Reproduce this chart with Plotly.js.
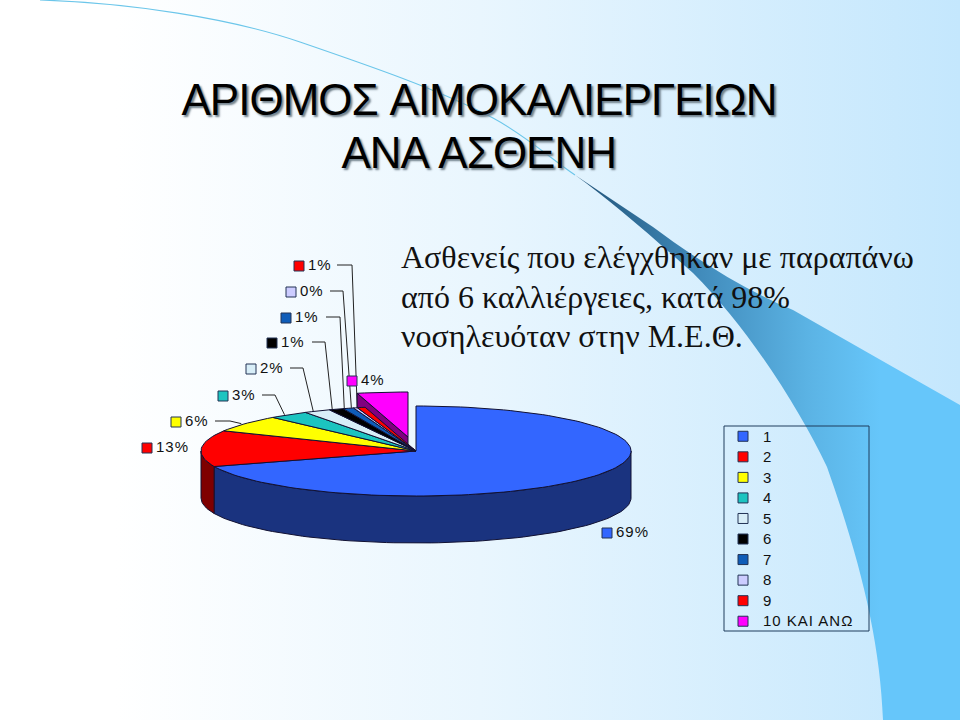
<!DOCTYPE html>
<html>
<head>
<meta charset="utf-8">
<script src="https://cdn.plot.ly/plotly-3.0.1.min.js"></script>
<style>
html,body{margin:0;padding:0;background:#fff;}
#wrap{position:relative;width:960px;height:720px;overflow:hidden;}
#bg{position:absolute;left:0;top:0;}
#chart{position:absolute;left:0;top:0;width:960px;height:720px;}
#chart .gtitle{letter-spacing:-1px;word-spacing:3px;}
#chart .annotation.heading text{letter-spacing:-1px;word-spacing:3px;}
#chart .legend .scrollbox{clip-path:none !important;}
#chart .legendtext{font-size:15px !important;letter-spacing:1px;}
#chart .textpoint text{font-size:15px !important;letter-spacing:1px;}
</style>
</head>
<body>
<div id="wrap">
<svg id="bg" width="960" height="720" viewBox="0 0 960 720">
  <defs>
    <linearGradient id="page" x1="0" x2="1" y1="0" y2="0">
      <stop offset="0.12" stop-color="#ffffff"/>
      <stop offset="0.5" stop-color="#e9f6fe"/>
      <stop offset="1" stop-color="#c4e7fd"/>
    </linearGradient>
    <linearGradient id="band" gradientUnits="userSpaceOnUse" x1="590" x2="880" y1="0" y2="0">
      <stop offset="0" stop-color="#24587e"/>
      <stop offset="0.35" stop-color="#3f88b8"/>
      <stop offset="0.75" stop-color="#5bb3e4"/>
      <stop offset="1" stop-color="#66c6fa"/>
    </linearGradient>
  </defs>
  <rect width="960" height="720" fill="url(#page)"/>
  <path d="M40 0 C130 3 230 18 300 42 C370 66 440 90 493 118 C525 135 550 158 575 175" fill="none" stroke="#6cc6ea" stroke-width="1.1"/>
  <path d="M575 175 L653 227 C700 262 745 290 793 310 L893 367 L960 405 L960 720 L883 720 C880 640 860 560 827 467 C800 410 750 330 693 273 C650 235 610 200 575 175 Z" fill="url(#band)"/>
</svg>
<div id="chart"></div>
</div>
<script>
// ---- values ----
const categories = ['1','2','3','4','5','6','7','8','9','10 ΚΑΙ ΑΝΩ'];
const values = [69.4, 13, 6, 3, 2, 1.1, 0.8, 0.3, 0.6, 3.8];
const titleLines = ['ΑΡΙΘΜΟΣ ΑΙΜΟΚΑΛΙΕΡΓΕΙΩΝ', 'ΑΝΑ ΑΣΘΕΝΗ'];
const noteLines = ['Ασθενείς που ελέγχθηκαν με παραπάνω', 'από 6 καλλιέργειες, κατά 98%', 'νοσηλευόταν στην Μ.Ε.Θ.'];

// ---- styles ----
const topColors = ['#3366ff','#ff0000','#ffff00','#1cc4c0','#d8eef8','#000000','#0f5cb8','#ccccff','#ff0000','#ff00ff'];
const wallColors = ['#1a337f','#7f0000','#7f7f00','#0e6260','#6c777c','#000000','#082e5c','#666680','#7f0000','#800080'];
const outline = '#111133';
const headingFont = {family:'Liberation Sans', size:44, color:'#000', shadow:'2px 2px 2px #6f7f8a'};

// ---- layout geometry (page pixels) ----
const cx = 416, cy = 451, rx = 215, ry = 45, depth = 47;
const explodedSlice = 9, explodeX = -8, explodeY = -14;
const labelX = [607,147,176,223,251,272,286,291,299,352];
const labelY = [533,448,422,396,369,343,318,292,266,381];
const leaderStart = [null,null,215,262,290,312,326,330,337,null];
const leaderElbow = [null,null,230,275,303,325,340,343,352,null];
const leaderShift = -4;
const noteY = [257,296.5,336];
const headingX = 479, headingY = [100,152];

// ---- pie geometry derived from the values ----
const total = values.reduce((a,b)=>a+b,0);
let acc = 0;
const angles = values.map(v => { const a0 = acc/total*360; acc += v; return [a0, acc/total*360]; });
const rad = d => d*Math.PI/180;
const rimX = d => cx + rx*Math.sin(rad(d));
const rimY = d => cy - ry*Math.cos(rad(d));
function arc(a0,a1){ const n = Math.max(2, Math.ceil((a1-a0)/2)), p=[]; for(let i=0;i<=n;i++) p.push(a0+(a1-a0)*i/n); return p; }

const base = {type:'scatter', hoverinfo:'skip', showlegend:false};
const traces = [];

// leaders lie beneath the slices
values.forEach((v,i) => {
  if (leaderStart[i] === null) return;
  const mid = (angles[i][0]+angles[i][1])/2;
  traces.push({...base, mode:'lines', line:{color:'#222',width:1},
    x:[leaderStart[i], leaderElbow[i], rimX(mid)+leaderShift],
    y:[labelY[i]-1, labelY[i]-1, rimY(mid)]});
});

// exploded slice: cut face then top
{
  const i = explodedSlice, [a0,a1] = angles[i];
  const xs = [rimX(a0)+explodeX, cx+explodeX, cx+explodeX, rimX(a0)+explodeX];
  const ys = [rimY(a0)+explodeY, cy+explodeY, cy+explodeY+depth, rimY(a0)+explodeY+depth];
  traces.push({...base, mode:'lines', fill:'toself', fillcolor:wallColors[i], line:{color:outline,width:1},
    x:[...xs,xs[0]], y:[...ys,ys[0]]});
  const p = arc(a0,a1);
  traces.push({...base, mode:'lines', fill:'toself', fillcolor:topColors[i], line:{color:outline,width:1},
    x:[cx+explodeX, ...p.map(d=>rimX(d)+explodeX), cx+explodeX],
    y:[cy+explodeY, ...p.map(d=>rimY(d)+explodeY), cy+explodeY]});
}

// front walls (visible rim is 90..270 degrees)
values.forEach((v,i) => {
  if (i === explodedSlice) return;
  const a0 = Math.max(angles[i][0],90), a1 = Math.min(angles[i][1],270);
  if (a1 <= a0) return;
  const p = arc(a0,a1), q = [...p].reverse();
  traces.push({...base, mode:'lines', fill:'toself', fillcolor:wallColors[i], line:{color:outline,width:1},
    x:[...p.map(rimX), ...q.map(rimX), rimX(p[0])],
    y:[...p.map(rimY), ...q.map(d=>rimY(d)+depth), rimY(p[0])]});
});

// top faces
values.forEach((v,i) => {
  if (i === explodedSlice) return;
  const p = arc(angles[i][0],angles[i][1]);
  traces.push({...base, mode:'lines', fill:'toself', fillcolor:topColors[i], line:{color:outline,width:1},
    x:[cx, ...p.map(rimX), cx], y:[cy, ...p.map(rimY), cy]});
});

// label squares double as legend entries
categories.forEach((c,i) => {
  traces.push({type:'scatter', mode:'markers', name:c, hoverinfo:'skip', showlegend:true,
    x:[labelX[i]], y:[labelY[i]],
    marker:{symbol:'square', size:10, color:topColors[i], line:{color:'#223355',width:1}}});
});

// percent labels
traces.push({...base, mode:'text', textposition:'middle right',
  x:labelX.map(x=>x+9), y:labelY,
  text:values.map(v=>Math.round(v)+'%'),
  textfont:{family:'Liberation Sans', size:15, color:'#111'}});

const layout = {
  width:960, height:720, margin:{l:0,r:0,t:0,b:0},
  paper_bgcolor:'rgba(0,0,0,0)', plot_bgcolor:'rgba(0,0,0,0)',
  xaxis:{range:[0,960], visible:false, fixedrange:true},
  yaxis:{range:[720,0], visible:false, fixedrange:true},
  title:{text:titleLines[0], x:headingX/960, xanchor:'center', y:1-headingY[0]/720, yanchor:'middle', yref:'container', font:headingFont},
  annotations:[
    {text:titleLines[1], xref:'x', yref:'y', x:headingX, y:headingY[1], xanchor:'center', yanchor:'middle', showarrow:false, font:headingFont},
    ...noteLines.map((t,k)=>({text:t, xref:'x', yref:'y', x:399, y:noteY[k], xanchor:'left', yanchor:'middle',
      align:'left', showarrow:false, font:{family:'Liberation Serif', size:32, color:'#111'}}))
  ],
  shapes:[{type:'rect', xref:'x', yref:'y', x0:724, x1:869, y0:426, y1:631, line:{color:'#1e3c5c',width:1}, fillcolor:'rgba(0,0,0,0)'}],
  legend:{x:723/960, y:1-421/720, xanchor:'left', yanchor:'top', bgcolor:'rgba(0,0,0,0)',
    borderwidth:0,
    font:{family:'Liberation Sans', size:13.5, color:'#111'}, traceorder:'normal'}
};
Plotly.newPlot('chart', traces, layout, {displayModeBar:false, staticPlot:true}).then(gd => {
  const a = gd.querySelector('.annotation'); if (a) a.classList.add('heading');
});
</script>
</body>
</html>
